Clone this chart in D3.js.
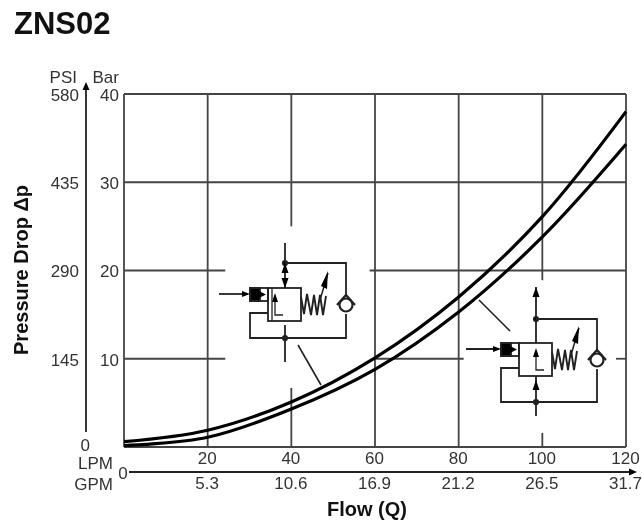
<!DOCTYPE html>
<html>
<head>
<meta charset="utf-8">
<script src="https://cdn.jsdelivr.net/npm/d3@7"></script>
<style>
  html, body { margin: 0; padding: 0; background: #fff; }
  svg { display: block; filter: blur(0.45px); }
  text { font-family: "Liberation Sans", Arial, sans-serif; fill: #333; }
</style>
</head>
<body>
<div id="chart"></div>
<script>
var flowLpm = [0, 20, 40, 60, 80, 100, 120];
var flowGpm = ["", "5.3", "10.6", "16.9", "21.2", "26.5", "31.7"];
var pressureBar = [0, 10, 20, 30, 40];
var pressurePsi = ["0", "145", "290", "435", "580"];
var upperDrop = [0.6, 1.9, 5.1, 10.1, 17.0, 26.1, 38.0];
var lowerDrop = [0.15, 1.1, 4.3, 8.8, 15.3, 23.8, 34.3];

// breaks in the grid where the valve symbols sit: [value, from, to]
var verticalBreaks = [[40, 6.7, 25], [100, 1.6, 18.9]];
var horizontalBreaks = [[10, 24.2, 60], [10, 81.2, 117.6], [20, 24.2, 58.7]];

var width = 642, height = 525;
var margin = { left: 124, right: 16, top: 94, bottom: 78 };
var tickFont = 17;

var x = d3.scaleLinear().domain([0, 120]).range([margin.left, width - margin.right]);
var y = d3.scaleLinear().domain([0, 40]).range([height - margin.bottom, margin.top]);

var svg = d3.select("#chart").append("svg").attr("width", width).attr("height", height);

svg.append("text").attr("x", 14).attr("y", 34).style("fill", "#111")
  .attr("font-size", 31).attr("font-weight", "bold").text("ZNS02");

/* grid */
function gridPieces(value, list, max) {
  var pieces = [], start = 0;
  list.filter(function(b) { return b[0] === value; }).forEach(function(b) {
    pieces.push([start, b[1]]);
    start = b[2];
  });
  pieces.push([start, max]);
  return pieces;
}

var grid = svg.append("g").attr("stroke", "#444").attr("stroke-width", 1.8).attr("fill", "none");

flowLpm.forEach(function(f) {
  gridPieces(f, verticalBreaks, 40).forEach(function(p) {
    grid.append("line").attr("x1", x(f)).attr("x2", x(f)).attr("y1", y(p[0])).attr("y2", y(p[1]));
  });
});

pressureBar.forEach(function(b) {
  gridPieces(b, horizontalBreaks, 120).forEach(function(p) {
    grid.append("line").attr("y1", y(b)).attr("y2", y(b)).attr("x1", x(p[0])).attr("x2", x(p[1]));
  });
});

/* curves */
var line = d3.line().x(function(d) { return x(d[0]); }).y(function(d) { return y(d[1]); })
  .curve(d3.curveCatmullRom);

[upperDrop, lowerDrop].forEach(function(drop) {
  svg.append("path").attr("d", line(d3.zip(flowLpm, drop)))
    .attr("fill", "none").attr("stroke", "#000").attr("stroke-width", 3.2);
});

/* tick labels */
function add_axis(axis, tx, ty) {
  var g = svg.append("g").attr("transform", "translate(" + tx + "," + ty + ")").call(axis);
  g.select(".domain").remove();
  g.selectAll("text").attr("font-size", tickFont).attr("font-family", null);
  return g;
}

// the Bar scale has no label at zero
add_axis(d3.axisLeft(y).tickValues(pressureBar.slice(1)).tickSize(0).tickPadding(0), 119, 1);

var psiAxis = add_axis(d3.axisLeft(y).tickValues(pressureBar).tickSize(0).tickPadding(0)
  .tickFormat(function(d, i) { return pressurePsi[i]; }), 79, 1);
psiAxis.selectAll(".tick").filter(function(d) { return d === 0; }).select("text")
  .attr("x", 11).attr("dy", 2);

add_axis(d3.axisBottom(x).tickValues(flowLpm.slice(1)).tickSize(0).tickPadding(0), -1, 452);
add_axis(d3.axisBottom(x).tickValues(flowLpm.slice(1)).tickSize(0).tickPadding(0)
  .tickFormat(function(d, i) { return flowGpm[i + 1]; }), -1, 477);

function label(tx, ty, anchor, s) {
  svg.append("text").attr("x", tx).attr("y", ty).attr("text-anchor", anchor)
    .attr("font-size", tickFont).text(s);
}
label(77, 83, "end", "PSI");
label(119, 83, "end", "Bar");
label(113, 469, "end", "LPM");
label(113, 490, "end", "GPM");
label(123, 479, "middle", "0");

svg.append("text").attr("x", 367).attr("y", 516).attr("text-anchor", "middle").style("fill", "#111")
  .attr("font-size", 20).attr("font-weight", "bold").text("Flow (Q)");
svg.append("text").attr("transform", "translate(28,270) rotate(-90)").attr("text-anchor", "middle").style("fill", "#111")
  .attr("font-size", 20).attr("font-weight", "bold").text("Pressure Drop \u0394p");

/* arrow axes */
svg.append("line").attr("x1", 86).attr("x2", 86).attr("y1", 432).attr("y2", 88)
  .attr("stroke", "#222").attr("stroke-width", 1.8);
svg.append("path").attr("d", "M86,82L89.5,90H82.5Z").attr("fill", "#000");
svg.append("line").attr("x1", 129).attr("x2", 630).attr("y1", 472).attr("y2", 472)
  .attr("stroke", "#222").attr("stroke-width", 1.8);
svg.append("path").attr("d", "M637,472L629,468.5V475.5Z").attr("fill", "#000");

/* valve symbols, ox/oy is the top left corner of the main box */
function draw_valve(ox, oy, opts) {
  var g = svg.append("g").attr("transform", "translate(" + ox + "," + oy + ")")
    .attr("fill", "none").attr("stroke", "#222").attr("stroke-width", 1.8);
  var ax = 17;

  g.append("rect").attr("width", 33).attr("height", 33);
  g.append("rect").attr("x", -18).attr("width", 18).attr("height", 13);
  g.append("path").attr("d", "M-18,0h10v13h-10Z").attr("fill", "#000");
  g.append("path").attr("d", "M-9,3l7,3.5l-7,3.5Z").attr("fill", "#000").attr("stroke", "none");

  // pilot arrow
  g.append("path").attr("d", "M" + opts.arrowStart + ",6H-20");
  g.append("path").attr("d", "M-18,6l-8,-3v6Z").attr("fill", "#000").attr("stroke", "none");

  // axis through the box
  g.append("path").attr("d", "M" + ax + "," + (-opts.top) + "V0M" + ax + "," + opts.bottomStart + "V" + opts.bottom);
  g.append("circle").attr("cx", ax).attr("cy", -opts.dot).attr("r", 2.2).attr("fill", "#000");
  g.append("circle").attr("cx", ax).attr("cy", opts.loop).attr("r", 2.2).attr("fill", "#000");
  opts.upArrows.forEach(function(a) {
    g.append("path").attr("d", "M" + ax + "," + a + "l-3.5,10h7Z").attr("fill", "#000").attr("stroke", "none");
  });
  opts.downArrows.forEach(function(a) {
    g.append("path").attr("d", "M" + ax + "," + a + "l-3.5,-10h7Z").attr("fill", "#000").attr("stroke", "none");
  });

  // inner flow arrow
  g.append("path").attr("d", "M" + opts.innerX + ",8V27h8").attr("stroke-width", 1.3);
  g.append("path").attr("d", "M" + opts.innerX + ",5l-3,9h6Z").attr("fill", "#000").attr("stroke", "none");
  if (opts.doubleWall)
    g.append("path").attr("d", "M4,0V33").attr("stroke-width", 1.3);

  // feedback line and check valve
  g.append("path").attr("d", "M0,25H-18V" + opts.loop + "H" + opts.checkX + "V26");
  g.append("path").attr("d", "M" + opts.checkX + ",7V" + (-opts.dot) + "H" + ax);
  g.append("circle").attr("cx", opts.checkX).attr("cy", 17).attr("r", 6.5).attr("fill", "#fff").attr("stroke-width", 2.2);
  g.append("path").attr("d", "M" + (opts.checkX - 9) + ",17L" + opts.checkX + ",7L" + (opts.checkX + 9) + ",17").attr("stroke-width", 2.2);

  // spring
  g.append("path").attr("d", "M33,9l3,17l3,-20l4,21l3,-20l3,20l3,-20l3,20l3,-19").attr("stroke-width", 1.9);
  g.append("path").attr("d", "M60,-15L52,12").attr("stroke-width", 1.5);
  g.append("path").attr("d", "M60,-17l-7,15l6,3Z").attr("fill", "#000").attr("stroke", "none");
}

draw_valve(268, 288, { arrowStart: -49, top: 45, bottomStart: 37, bottom: 74, dot: 25, loop: 50, checkX: 78,
  upArrows: [-25], downArrows: [0], innerX: 7, doubleWall: true });
draw_valve(519, 343, { arrowStart: -53, top: 56, bottomStart: 33, bottom: 73, dot: 24, loop: 59, checkX: 78,
  upArrows: [-56, 37], downArrows: [], innerX: 17, doubleWall: false });

/* leader lines */
svg.append("path").attr("d", "M298,345L321,385M479,300L510,331")
  .attr("stroke", "#222").attr("stroke-width", 1.6).attr("fill", "none");
</script>
</body>
</html>
